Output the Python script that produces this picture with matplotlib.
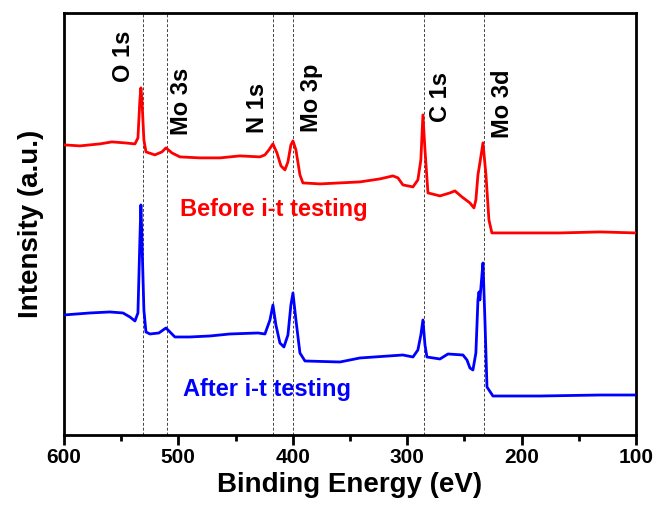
import numpy as np
import matplotlib
matplotlib.use("Agg")
import matplotlib.pyplot as plt
from matplotlib.ticker import MultipleLocator

plt.rcParams['font.family'] = ['Liberation Sans', 'DejaVu Sans']
plt.rcParams['font.weight'] = 'bold'

# spectrum before i-t testing (binding energy eV, intensity a.u.)
before_e = [600, 586.0, 568.5, 558.0, 546.7, 537.9, 535.3, 533.6, 532.7, 531.8,
            530.1, 528.3, 520.5, 514.3, 510.8, 505.6, 498.6, 481.1, 463.6, 446.2,
            428.7, 424.3, 420.8, 417.3, 413.8, 410.3, 406.8, 404.2, 401.6, 399.8,
            397.2, 393.7, 391.1, 376.2, 358.7, 341.3, 323.8, 312.4, 308.0, 303.7,
            294.9, 290.6, 288.0, 286.2, 284.4, 281.8, 271.3, 262.6, 258.2, 252.1,
            245.1, 241.6, 239.9, 238.1, 236.4, 233.7, 231.1, 228.5, 225.9, 201.4,
            166.4, 131.4, 100]
before_i = [290, 289, 291, 293, 292, 291, 297, 335, 347, 335,
            295, 283, 280, 283, 287, 282, 278, 277, 277, 279,
            278, 280, 285, 291, 282, 269, 265, 273, 290, 294,
            285, 260, 252, 251, 252, 253, 256, 259, 257, 250,
            248, 255, 275, 320, 285, 242, 239, 242, 244, 238,
            232, 227, 235, 260, 272, 292, 260, 215, 202, 202,
            202, 203, 202]

# spectrum after i-t testing
after_e = [600, 577.3, 559.8, 548.4, 542.3, 537.9, 535.3, 533.6, 532.7, 531.8,
           530.1, 528.3, 524.8, 517.0, 510.8, 503.0, 489.9, 472.4, 454.9, 430.4,
           424.3, 419.9, 417.3, 414.7, 411.2, 407.7, 404.2, 401.6, 399.8, 397.2,
           393.7, 389.3, 358.7, 341.3, 303.7, 294.9, 290.6, 288.0, 286.2, 284.4,
           282.7, 271.3, 264.3, 251.2, 247.7, 245.1, 242.5, 239.9, 238.1, 237.2,
           236.4, 234.6, 233.7, 232.0, 230.2, 225.0, 183.9, 131.4, 100]
after_i = [120, 122, 123, 122, 118, 114, 122, 195, 230, 195,
           125, 103, 101, 102, 107, 98, 98, 99, 101, 102,
           101, 115, 130, 110, 92, 88, 100, 130, 142, 115,
           82, 74, 73, 77, 80, 78, 85, 100, 115, 90,
           78, 76, 81, 80, 75, 67, 65, 82, 135, 143,
           135, 160, 172, 115, 48, 39, 39, 40, 40]

peak_pos = [531, 510, 417, 399.5, 285, 232.5]
peak_names = ['O 1s', 'Mo 3s', 'N 1s', 'Mo 3p', 'C 1s', 'Mo 3d']
name_x = [547.6, 496.9, 430.4, 383.2, 270.5, 216.3]
name_y = [353, 300, 302, 303, 313, 297]

fig = plt.figure(figsize=(6.59, 5.13), dpi=100)
ax = fig.add_axes([0.097, 0.152, 0.868, 0.823])

for p in peak_pos:
    ax.axvline(p, color='#444444', ls=(0, (3, 2)), lw=0.7, zorder=1)

ax.plot(before_e, before_i, color='#ff0000', lw=2, zorder=3)
ax.plot(after_e, after_i, color='#0000ff', lw=2, zorder=3)

for n, x, y in zip(peak_names, name_x, name_y):
    ax.text(x, y, n, rotation=90, ha='center', va='bottom', fontsize=17, fontweight='bold')

ax.text(498.6, 225, 'Before i-t testing', color='#ff0000', fontsize=17,
        fontweight='bold', va='center', ha='left')
ax.text(496, 46, 'After i-t testing', color='#0000ff', fontsize=17,
        fontweight='bold', va='center', ha='left')

ax.set_xlim(600, 100)
ax.set_ylim(0, 422)
ax.set_yticks([])
ax.xaxis.set_major_locator(MultipleLocator(100))
ax.xaxis.set_minor_locator(MultipleLocator(50))
ax.tick_params(axis='x', which='major', direction='out', length=7, width=2,
               labelsize=15, pad=2)
ax.tick_params(axis='x', which='minor', direction='out', length=4, width=2)
for lab in ax.get_xticklabels():
    lab.set_fontweight('bold')
for s in ax.spines.values():
    s.set_linewidth(2)

ax.set_xlabel('Binding Energy (eV)', fontsize=20, fontweight='bold', labelpad=4)
ax.set_ylabel('Intensity (a.u.)', fontsize=20, fontweight='bold', labelpad=14)

fig.savefig('out.png', dpi=100)
